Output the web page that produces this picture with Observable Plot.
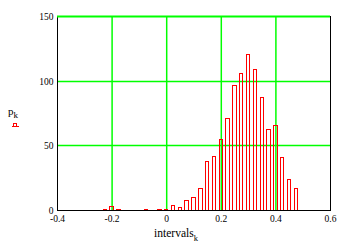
<!DOCTYPE html>
<html><head><meta charset="utf-8">
<script src="https://cdn.jsdelivr.net/npm/d3@7"></script>
<script src="https://cdn.jsdelivr.net/npm/@observablehq/plot@0.6"></script>
<style>body{margin:0;background:#fff}</style>
</head><body><div id="chart"></div>
<script>
const intervals = [-0.225,-0.2,-0.175,-0.075,-0.025,0,0.025,0.05,0.075,0.1,0.125,0.15,0.175,0.2,0.225,0.25,0.275,0.3,0.325,0.35,0.375,0.4,0.425,0.45,0.475];
const counts = [1,3,1,1,1,1,4,2,8,10,17,38,42,55,71,97,106,121,109,87,63,66,41,24,17];
const xTicks = [-0.4,-0.2,0,0.2,0.4,0.6];
const xTickLabels = ["-0.4","-0.2","0","0.2","0.4","0.6"];
const yTicks = [0,50,100,150];
const yTickLabels = ["0","50","100","150"];
const xGrid = [-0.2,0,0.2,0.4];
const yGrid = [50,100];
const yTop = [150];
const binWidth = 0.025;
const data = intervals.map((x,i)=>({x, p: counts[i]}));
const green = "#00ff00";

const chart = Plot.plot({
  width:346, height:251,
  marginLeft:57, marginRight:16, marginTop:16, marginBottom:41,
  x:{domain:[-0.4,0.6], ticks:xTicks, tickFormat:d=>xTickLabels[xTicks.indexOf(d)], tickSize:0, tickPadding:5, label:null},
  y:{domain:[0,150], round:true, ticks:yTicks, tickFormat:d=>yTickLabels[yTicks.indexOf(d)], tickSize:0, tickPadding:4, label:null},
  style:{fontFamily:"'Liberation Serif', 'Times New Roman', serif", fontSize:"9.5px", color:"#000", background:"#fff", overflow:"visible"},
  marks:[
    Plot.ruleX(xGrid, {stroke:green, strokeWidth:1.5}),
    Plot.ruleY(yGrid, {stroke:green, strokeWidth:1.5}),
    Plot.rect(data, {x1:d=>d.x-binWidth/4, x2:d=>d.x+binWidth/4, y1:0, y2:"p", fill:"none", stroke:"#ff0000", strokeWidth:1, shapeRendering:"crispEdges"}),
    Plot.frame({stroke:"#000", strokeWidth:1}),
    Plot.ruleY(yTop, {stroke:green, strokeWidth:1.8})
  ]
});
document.getElementById("chart").appendChild(chart);

const svg = d3.select(chart);
const xl = svg.append("text")
  .attr("x",176).attr("y",237)
  .attr("font-family","'Liberation Serif', 'Times New Roman', serif")
  .attr("font-size","11.5px").attr("fill","#000");
xl.append("tspan").text("intervals");
xl.append("tspan").attr("font-size","8.5px").attr("dy",3.5).text("k");

const yl = svg.append("text")
  .attr("x",13).attr("y",115)
  .attr("font-family","'Liberation Serif', 'Times New Roman', serif")
  .attr("font-size","11px").attr("fill","#000");
yl.append("tspan").text("p");
yl.append("tspan").attr("font-size","9px").attr("dy",2.5).text("k");

svg.append("path")
  .attr("d","M12,126.5H19M13.5,126.5V123.5H16.5V126.5")
  .attr("fill","none").attr("stroke","#ff0000").attr("stroke-width",1)
  .attr("shape-rendering","crispEdges");
</script>
</body></html>
